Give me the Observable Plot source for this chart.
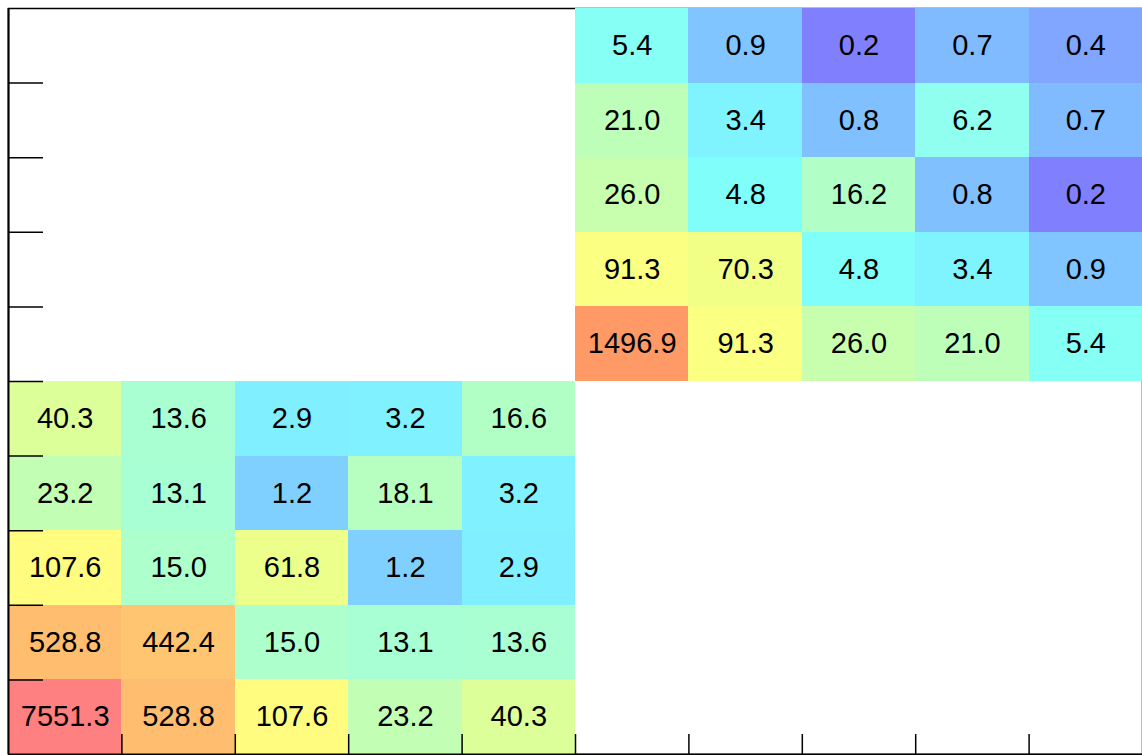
<!DOCTYPE html>
<html>
<head>
<meta charset="utf-8">
<script src="https://cdn.jsdelivr.net/npm/d3@7"></script>
<script src="https://cdn.jsdelivr.net/npm/@observablehq/plot@0.6"></script>
<style>
  html, body { margin: 0; padding: 0; background: #fff; }
  svg { display: block; }
</style>
</head>
<body>
<div id="chart"></div>
<script>
// bins along each axis
const xBins = [0, 1, 2, 3, 4, 5, 6, 7, 8, 9];
const yBins = [0, 1, 2, 3, 4, 5, 6, 7, 8, 9];

// lower-left block: rows 0..4 (bottom to top), columns 0..4
const lowerRows = [
  [7551.3, 528.8, 107.6, 23.2, 40.3],
  [528.8, 442.4, 15.0, 13.1, 13.6],
  [107.6, 15.0, 61.8, 1.2, 2.9],
  [23.2, 13.1, 1.2, 18.1, 3.2],
  [40.3, 13.6, 2.9, 3.2, 16.6]
];
// upper-right block: rows 5..9 (bottom to top), columns 5..9
const upperRows = [
  [1496.9, 91.3, 26.0, 21.0, 5.4],
  [91.3, 70.3, 4.8, 3.4, 0.9],
  [26.0, 4.8, 16.2, 0.8, 0.2],
  [21.0, 3.4, 0.8, 6.2, 0.7],
  [5.4, 0.9, 0.2, 0.7, 0.4]
];

// colour palette stops (log scale)
const colorStops = [0.2, 0.4, 0.8, 1.2, 3.2, 5.0, 6.2, 14, 20, 40, 65, 100, 500, 1500, 7551.3];
const colorRange = ["#8080ff", "#80a6ff", "#80c0ff", "#80d0ff", "#80f2ff", "#80fff8", "#90fff0",
  "#aaffd0", "#bbffbb", "#ddff99", "#eeff88", "#ffff80", "#ffc070", "#ff9966", "#ff8080"];

// tick positions (bin boundaries)
const xTicks = [1, 2, 3, 4, 5, 6, 7, 8, 9];
const yTicks = [1, 2, 3, 4, 5, 6, 7, 8, 9];

const cells = [];
lowerRows.forEach((row, j) => row.forEach((v, i) => cells.push({ix: xBins[i], iy: yBins[j], v})));
upperRows.forEach((row, j) => row.forEach((v, i) => cells.push({ix: xBins[i + 5], iy: yBins[j + 5], v})));

const W = 1142, H = 755;
const mL = 8, mR = 0, mT = 8, mB = 1;
const cellW = (W - mL - mR) / 10, cellH = (H - mT - mB) / 10;
const yTickLen = 35 / cellW;   // tick length in x units
const xTickLen = 20 / cellH;   // tick length in y units

const chart = Plot.plot({
  width: W,
  height: H,
  marginLeft: mL,
  marginRight: mR,
  marginTop: mT,
  marginBottom: mB,
  style: {background: "#fff", fontFamily: "'Liberation Sans', Arial, Helvetica, sans-serif"},
  x: {domain: [0, 10], axis: null},
  y: {domain: [0, 10], axis: null},
  color: {type: "log", domain: colorStops, range: colorRange},
  marks: [
    Plot.frame({stroke: "#000", strokeWidth: 1.5}),
    Plot.rect(cells, {
      x1: "ix", x2: d => d.ix + 1, y1: "iy", y2: d => d.iy + 1,
      fill: "v", shapeRendering: "crispEdges"
    }),
    Plot.text(cells, {
      x: d => d.ix + 0.5, y: d => d.iy + 0.5,
      text: d => d.v.toFixed(1),
      fill: "#000", fontSize: 29
    }),
    Plot.ruleX([0], {stroke: "#000", strokeWidth: 2}),
    Plot.ruleY([0], {stroke: "#000", strokeWidth: 2}),
    Plot.ruleY(yTicks, {y: d => d, x1: 0, x2: yTickLen, stroke: "#000", strokeWidth: 1.5}),
    Plot.ruleX(xTicks, {x: d => d, y1: 0, y2: xTickLen, stroke: "#000", strokeWidth: 1.5})
  ]
});
document.getElementById("chart").appendChild(chart);
</script>
</body>
</html>
